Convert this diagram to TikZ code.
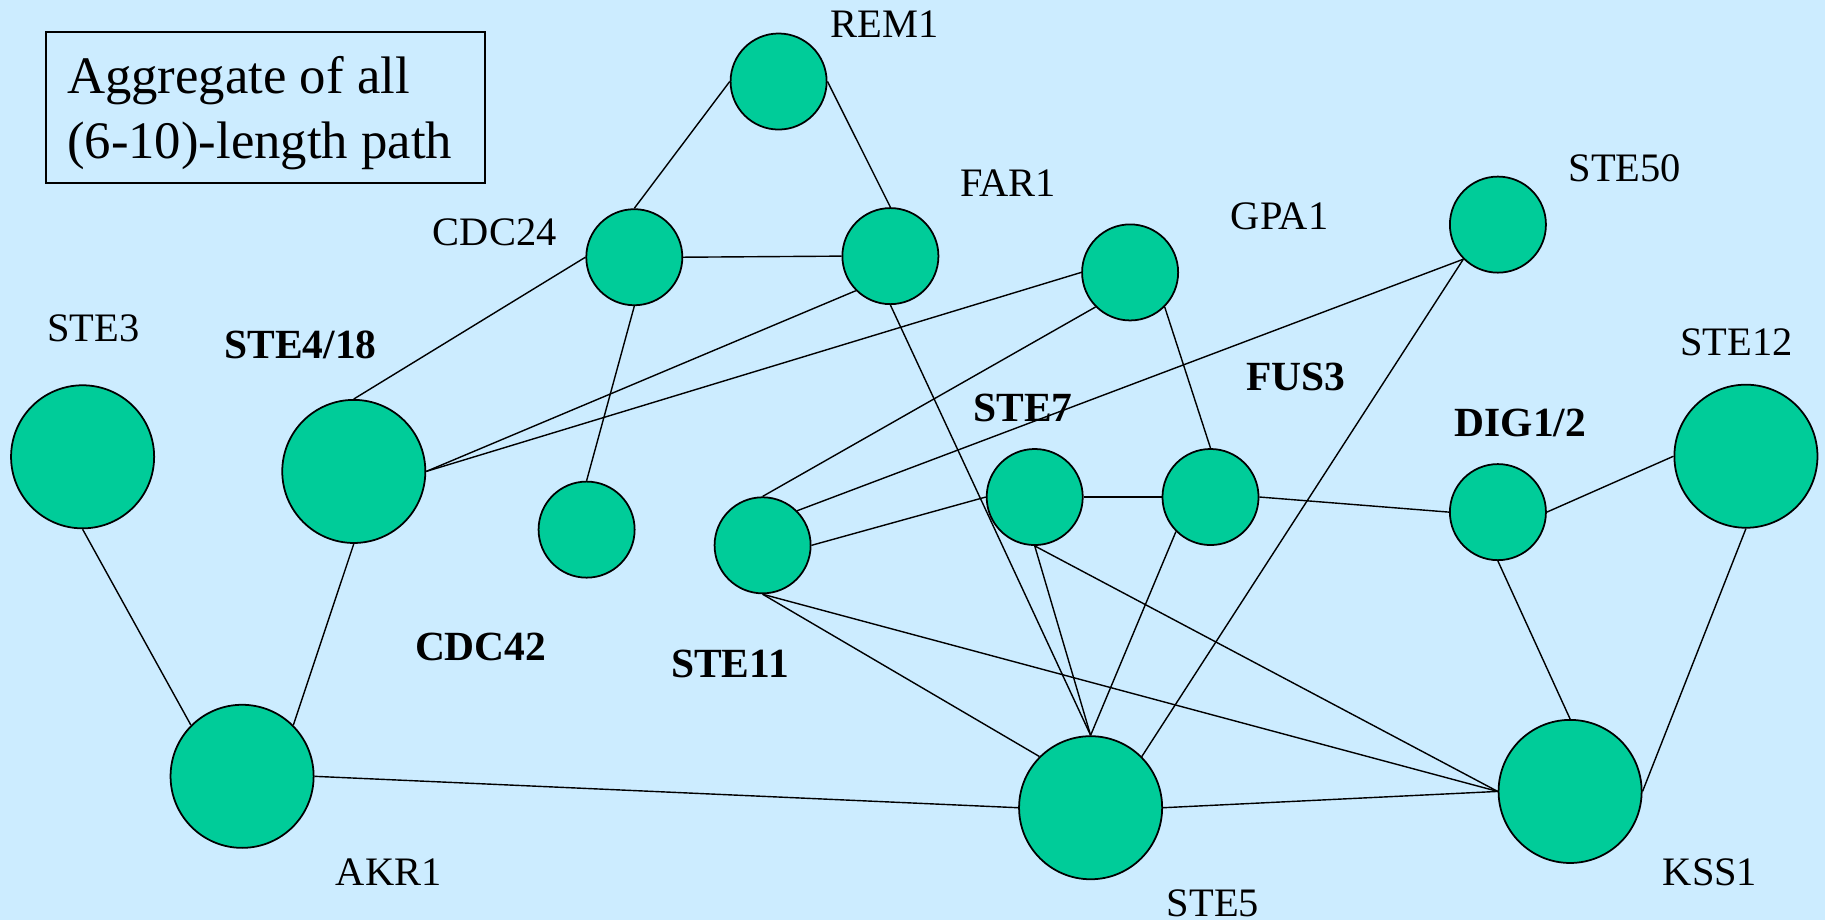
\documentclass[tikz,border=0pt]{standalone}
\usepackage{fontspec}
\setmainfont{Liberation Serif}
\usetikzlibrary{shapes}

\definecolor{skybg}{RGB}{204,236,255}
\definecolor{protein}{RGB}{0,204,153}

\begin{document}
\begin{tikzpicture}[
    x=0.01cm, y=-0.01cm,
    prot/.style={circle, draw, line width=0.5pt, fill=protein, minimum size=0.96cm, inner sep=0pt},
    bigprot/.style={prot, minimum size=1.43cm},
    lbl/.style={anchor=base, inner sep=0pt, font=\fontsize{11.5pt}{13pt}\selectfont},
    boldlbl/.style={lbl, font=\fontsize{11.8pt}{13pt}\selectfont\bfseries},
    note/.style={draw, line width=0.6pt, align=flush left, text width=3.97cm, inner xsep=0.21cm, inner ysep=0pt, minimum height=1.51cm, text depth=0.644cm, font=\fontsize{15pt}{18.3pt}\selectfont},
    link/.style={line width=0.4pt}
]
\useasboundingbox (0,0) rectangle (1825,920);
\fill [skybg] (0,0) rectangle (1825,920);

% Title box
\node [note, anchor=north west] (title) at (45,31) {Aggregate of all\\(6-10)-length path};

% Nodes
\node [prot] (rem1) at (778.6,81.5) {};
\node [prot] (cdc24) at (634.3,257.2) {};
\node [prot] (far1) at (890.4,256.1) {};
\node [prot] (gpa1) at (1130.1,272.4) {};
\node [prot] (ste50) at (1497.9,224.6) {};
\node [bigprot] (ste3) at (82.6,456.8) {};
\node [bigprot] (ste418) at (353.8,471.4) {};
\node [prot] (cdc42) at (586.6,529.6) {};
\node [prot] (ste11) at (762.6,545.3) {};
\node [prot] (ste7) at (1034.7,497.0) {};
\node [prot] (fus3) at (1210.5,497.0) {};
\node [prot] (dig12) at (1497.9,512.1) {};
\node [bigprot] (ste12) at (1745.9,456.2) {};
\node [bigprot] (akr1) at (242.1,776.3) {};
\node [bigprot] (ste5) at (1090.6,807.7) {};
\node [bigprot] (kss1) at (1570.1,791.4) {};

% Labels
\node [lbl] (rem1-l) at (884.8,37.3) {REM1};
\node [lbl] (cdc24-l) at (494.7,245) {CDC24};
\node [lbl] (far1-l) at (1008,196.2) {FAR1};
\node [lbl] (gpa1-l) at (1279.5,229.3) {GPA1};
\node [lbl] (ste50-l) at (1624.8,181) {STE50};
\node [lbl] (ste3-l) at (93.5,341.8) {STE3};
\node [boldlbl] (ste418-l) at (300.5,358.2) {STE4/18};
\node [boldlbl] (cdc42-l) at (480.7,660.5) {CDC42};
\node [boldlbl] (ste11-l) at (730,677.3) {STE11};
\node [boldlbl] (ste7-l) at (1023,421.7) {STE7};
\node [boldlbl] (fus3-l) at (1296,390) {FUS3};
\node [boldlbl] (dig12-l) at (1520.5,436.7) {DIG1/2};
\node [lbl] (ste12-l) at (1736.5,355.7) {STE12};
\node [lbl] (akr1-l) at (388.7,885.3) {AKR1};
\node [lbl] (ste5-l) at (1213,916) {STE5};
\node [lbl] (kss1-l) at (1710,885) {KSS1};

% Edges
\path [draw, link] (rem1.west) -- (cdc24.north);
\path [draw, link] (rem1.east) -- (far1.north);
\path [draw, link] (cdc24.east) -- (far1.west);
\path [draw, link] (cdc24.west) -- (ste418.north);
\path [draw, link] (cdc24.south) -- (cdc42.north);
\path [draw, link] (far1.south west) -- (ste418.east);
\path [draw, link] (gpa1.west) -- (ste418.east);
\path [draw, link] (far1.south) -- (ste5.north);
\path [draw, link] (gpa1.south west) -- (ste11.north);
\path [draw, link] (gpa1.south east) -- (fus3.north);
\path [draw, link] (ste50.south west) -- (ste11.north east);
\path [draw, link] (ste50.south west) -- (ste5.north east);
\path [draw, link] (ste3.south) -- (akr1.north west);
\path [draw, link] (ste418.south) -- (akr1.north east);
\path [draw, link] (akr1.east) -- (ste5.west);
\path [draw, link] (ste11.east) -- (ste7.west);
\path [draw, link] (ste11.south) -- (ste5.north west);
\path [draw, link] (ste11.south) -- (kss1.west);
\path [draw, link] (ste7.east) -- (fus3.west);
\path [draw, link] (ste7.south) -- (ste5.north);
\path [draw, link] (ste7.south) -- (kss1.west);
\path [draw, link] (fus3.south west) -- (ste5.north);
\path [draw, link] (fus3.east) -- (dig12.west);
\path [draw, link] (dig12.east) -- (ste12.west);
\path [draw, link] (dig12.south) -- (kss1.north);
\path [draw, link] (ste12.south) -- (kss1.east);
\path [draw, link] (ste5.east) -- (kss1.west);

\end{tikzpicture}
\end{document}
